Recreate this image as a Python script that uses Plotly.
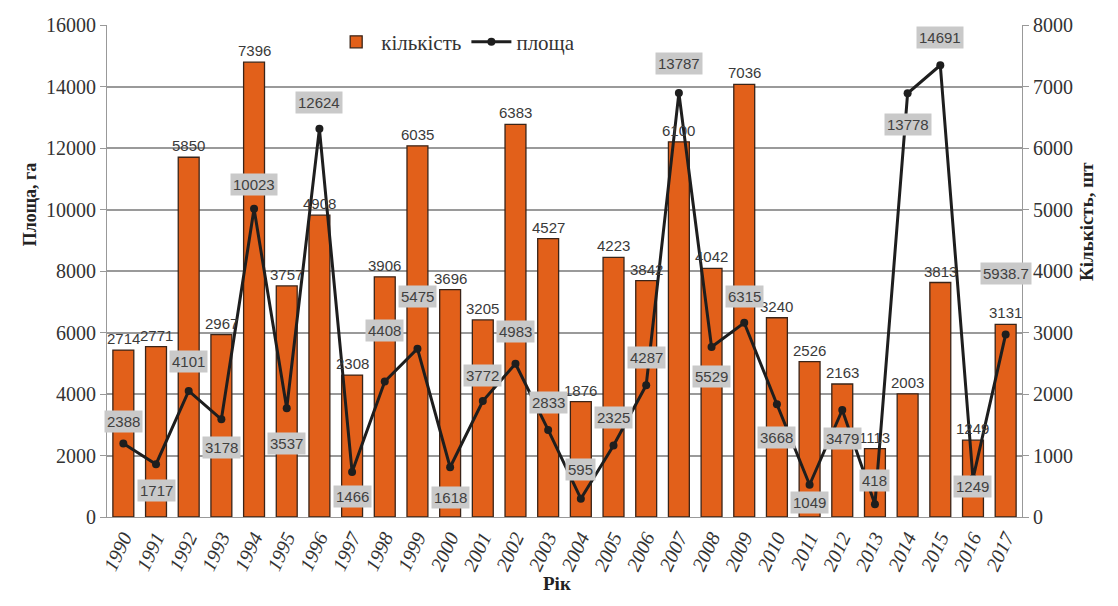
import plotly.graph_objects as go

years = list(range(1990, 2018))
count = [2714, 2771, 5850, 2967, 7396, 3757, 4908, 2308, 3906, 6035, 3696, 3205, 6383, 4527,
         1876, 4223, 3842, 6100, 4042, 7036, 3240, 2526, 2163, 1113, 2003, 3813, 1249, 3131]
area = [2388, 1717, 4101, 3178, 10023, 3537, 12624, 1466, 4408, 5475, 1618, 3772, 4983, 2833,
        595, 2325, 4287, 13787, 5529, 6315, 3668, 1049, 3479, 418, 13778, 14691, 1249, 5938.7]
left_ticks = [0, 2000, 4000, 6000, 8000, 10000, 12000, 14000, 16000]
right_ticks = [0, 1000, 2000, 3000, 4000, 5000, 6000, 7000, 8000]

# label vertical offsets (px) for the area labels (style only)
area_label_shift = [22, -26, 29, -28, 24, -35, 26, -25, 51, 52, -30, 26, 32, 27,
                    29, 28, 28, 30, -30, 26, -33, -18, -28, 24, -31, 28, -8, 61]

SERIF = "Liberation Serif"
SANS = "Liberation Sans"

fig = go.Figure()
fig.add_trace(go.Bar(
    x=years, y=count, name="кількість", yaxis="y",
    marker=dict(color="#E2601A", line=dict(color="#3a2418", width=1.3)),
    width=0.64,
))
fig.add_trace(go.Scatter(
    x=years, y=area, name="площа", yaxis="y2", mode="lines+markers",
    line=dict(color="#1e1e1e", width=3),
    marker=dict(color="#1e1e1e", size=8, symbol="circle"),
))

annotations = []
for yr, c in zip(years, count):
    annotations.append(dict(
        x=yr, y=c, xref="x", yref="y", text=str(c), showarrow=False,
        yanchor="bottom", yshift=1,
        font=dict(family=SANS, size=15, color="#3a3a3a"),
    ))
for yr, a, s in zip(years, area, area_label_shift):
    txt = f"{a:g}"
    annotations.append(dict(
        x=yr, y=a, xref="x", yref="y2", text=txt, showarrow=False,
        yshift=s, bgcolor="#c9c9c9", borderpad=2,
        font=dict(family=SANS, size=15, color="#404040"),
    ))
# axis titles
annotations += [
    dict(text="<b>Площа, га</b>", xref="paper", yref="paper", x=-0.097, y=0.634,
         textangle=-90, showarrow=False, font=dict(family=SERIF, size=18, color="#222")),
    dict(text="<b>Кількість, шт</b>", xref="paper", yref="paper", x=1.085, y=0.60,
         textangle=-90, showarrow=False, font=dict(family=SERIF, size=19, color="#222")),
    dict(text="<b>Рік</b>", xref="paper", yref="paper", x=0.492, y=-0.16,
         showarrow=False, font=dict(family=SERIF, size=19, color="#222")),
]

fig.update_layout(
    width=1118, height=606,
    margin=dict(l=107, r=96, t=25, b=89),
    paper_bgcolor="white", plot_bgcolor="white",
    bargap=0.36,
    showlegend=True,
    legend=dict(orientation="h", x=0.245, y=0.965, xanchor="left", yanchor="middle",
                font=dict(family=SERIF, size=21, color="#333"), bgcolor="rgba(0,0,0,0)",
                itemwidth=40, traceorder="normal"),
    xaxis=dict(
        range=[1989.5, 2017.5], tickmode="array", tickvals=years,
        ticktext=[f"<i>{y}</i>" for y in years], tickangle=-65,
        tickfont=dict(family=SERIF, size=20, color="#333"),
        showgrid=False, showline=True, linecolor="#999", linewidth=1.2,
        ticks="", zeroline=False,
    ),
    yaxis=dict(
        side="right", range=[0, 8000], tickmode="array", tickvals=right_ticks,
        ticktext=[str(t) for t in right_ticks],
        ticks="outside", ticklen=6, tickcolor="#999",
        tickfont=dict(family=SERIF, size=20, color="#333"),
        showgrid=True, gridcolor="#9a9a9a", gridwidth=1.5,
        showline=True, linecolor="#999", linewidth=1.2, zeroline=False,
    ),
    yaxis2=dict(
        side="left", overlaying="y", range=[0, 16000], tickmode="array", tickvals=left_ticks,
        ticktext=[str(t) for t in left_ticks],
        ticks="outside", ticklen=6, tickcolor="#999",
        tickfont=dict(family=SERIF, size=20, color="#333"),
        showgrid=False, showline=True, linecolor="#999", linewidth=1.2, zeroline=False,
    ),
    annotations=annotations,
)

fig.write_html("out.html")
